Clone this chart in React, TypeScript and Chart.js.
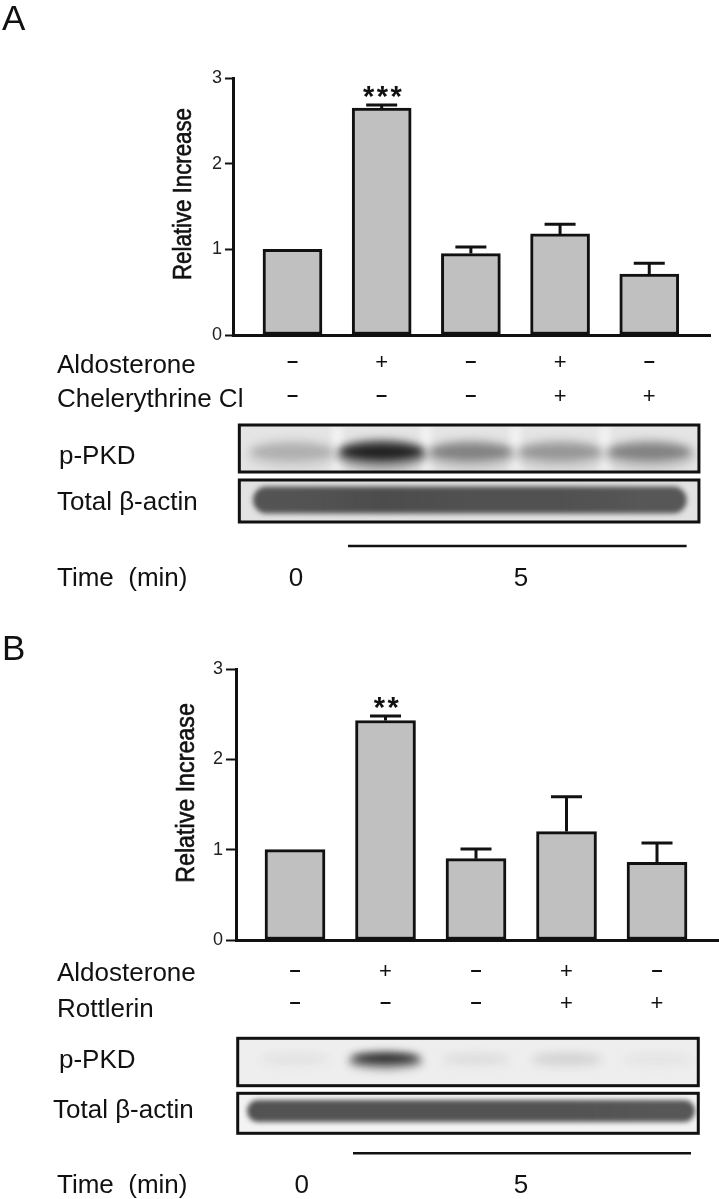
import React, { useEffect, useRef } from 'react';
import { Chart, registerables } from 'chart.js';

Chart.register(...registerables);
Chart.defaults.font.family = '"Liberation Sans", Arial, sans-serif';
Chart.defaults.font.size = 18;

// ---------------- data ----------------
const lanes = [0, 1, 2, 3, 4];
const yTicks = [0, 1, 2, 3];
const timeLabels = ['0', '5'];

// Panel A
const aldosteroneA = ['-', '+', '-', '+', '-'];
const chelerythrineA = ['-', '-', '-', '+', '+'];
const meanA = [1.0, 2.65, 0.95, 1.18, 0.71];
const semA = [0, 0.035, 0.078, 0.112, 0.129];
const sigA = ['', '***', '', '', ''];
const pPKDA = [0.2, 0.95, 0.4, 0.3, 0.4];
const actinA = [0.86, 0.9, 0.88, 0.88, 0.84];

// Panel B
const aldosteroneB = ['-', '+', '-', '+', '-'];
const rottlerinB = ['-', '-', '-', '+', '+'];
const meanB = [1.0, 2.43, 0.9, 1.2, 0.86];
const semB = [0, 0.05, 0.107, 0.385, 0.214];
const sigB = ['', '**', '', '', ''];
const pPKDB = [0.04, 0.97, 0.06, 0.1, 0.03];
const actinB = [0.88, 0.88, 0.88, 0.88, 0.86];

// ---------------- layout ----------------
const FONT = '"Liberation Sans", Arial, sans-serif';
const INK = '#111';

const panelA = {
  letter: 'A', height: 600, letterBaseline: 30,
  axisLeft: 233, axisRight: 710, plotTop: 78, plotBottom: 335,
  xMin: -0.667, xMax: 4.681, barThickness: 59, tickLength: 8,
  means: meanA, sems: semA, sig: sigA,
  titleX: 184, titleY: 194, titleScale: 0.89,
  rows: [
    { label: 'Aldosterone', values: aldosteroneA, baseline: 373, symY: 361 },
    { label: 'Chelerythrine Cl', values: chelerythrineA, baseline: 406.5, symY: 395 },
  ],
  labelX: 57,
  pkd: { top: 425, bottom: 472, left: -0.596, right: 4.557, baseline: 464, labelX: 59, bg: '#e4e4e4', bandY: 452, bandRx: 42, bandRy: 9, values: pPKDA, gaps: true },
  actin: { top: 480, bottom: 522, left: -0.596, right: 4.557, baseline: 510, labelX: 57, bg: '#e2e2e2', bandY: 500, bandH: 27, from: -0.443, to: 4.42, values: actinA },
  timeLine: { y: 546, from: 0.622, to: 4.419 },
  time: { baseline: 585.5, labelX: 57, at: [0.04, 2.562] },
};

const panelB = {
  letter: 'B', height: 599, letterBaseline: 60,
  axisLeft: 236, axisRight: 719, plotTop: 69, plotBottom: 340,
  xMin: -0.652, xMax: 4.685, barThickness: 60, tickLength: 10,
  means: meanB, sems: semB, sig: sigB,
  titleX: 187, titleY: 193, titleScale: 0.93,
  rows: [
    { label: 'Aldosterone', values: aldosteroneB, baseline: 380.7, symY: 370 },
    { label: 'Rottlerin', values: rottlerinB, baseline: 416.7, symY: 402 },
  ],
  labelX: 57,
  pkd: { top: 438.3, bottom: 485.7, left: -0.633, right: 4.456, baseline: 468.3, labelX: 59, bg: '#eeeeee', bandY: 458.5, bandRx: 34, bandRy: 5, values: pPKDB, gaps: false },
  actin: { top: 493.3, bottom: 533.3, left: -0.633, right: 4.456, baseline: 518.3, labelX: 53, bg: '#f3f3f3', bandY: 511, bandH: 22, from: -0.53, to: 4.42, values: actinB },
  timeLine: { y: 553.3, from: 0.641, to: 4.376 },
  time: { baseline: 593.3, labelX: 57, at: [0.074, 2.497] },
};

function drawSymbol(ctx, s, x, cy) {
  ctx.textAlign = 'center';
  ctx.textBaseline = 'alphabetic';
  if (s === '+') {
    ctx.font = `22px ${FONT}`;
    ctx.fillText('+', x, cy + 7.7);
  } else {
    ctx.font = `bold 20px ${FONT}`;
    ctx.fillText('\u2013', x, cy + 5.5);
  }
}

function overlayPlugin(cfg) {
  return {
    id: 'overlay' + cfg.letter,
    afterDatasetsDraw(chart) {
      const { ctx } = chart;
      const xs = chart.scales.x;
      const ys = chart.scales.y;
      ctx.save();
      ctx.strokeStyle = INK;
      ctx.fillStyle = INK;
      ctx.lineWidth = 3;
      lanes.forEach((i) => {
        const e = cfg.sems[i];
        const cx = xs.getPixelForValue(i);
        const yTopBar = ys.getPixelForValue(cfg.means[i]);
        const yErr = ys.getPixelForValue(cfg.means[i] + e);
        if (e > 0) {
          ctx.beginPath();
          ctx.moveTo(cx, yTopBar);
          ctx.lineTo(cx, yErr);
          ctx.moveTo(cx - 15.5, yErr);
          ctx.lineTo(cx + 15.5, yErr);
          ctx.stroke();
        }
        if (cfg.sig[i]) {
          ctx.font = `bold 29px ${FONT}`;
          ctx.textAlign = 'center';
          ctx.textBaseline = 'alphabetic';
          (ctx as any).letterSpacing = '2.5px';
          ctx.fillText(cfg.sig[i], cx + 2, yErr + 1.5);
          (ctx as any).letterSpacing = '0px';
        }
      });
      ctx.restore();
    },
    afterDraw(chart) {
      const { ctx } = chart;
      const xs = chart.scales.x;
      const px = (v) => xs.getPixelForValue(v);
      ctx.save();
      ctx.fillStyle = INK;
      ctx.strokeStyle = INK;

      // panel letter
      ctx.font = `35px ${FONT}`;
      ctx.textAlign = 'left';
      ctx.textBaseline = 'alphabetic';
      ctx.fillText(cfg.letter, 2, cfg.letterBaseline);

      // y axis title (condensed)
      ctx.save();
      ctx.translate(cfg.titleX, cfg.titleY);
      ctx.rotate(-Math.PI / 2);
      ctx.scale(cfg.titleScale, 1);
      ctx.font = `25px ${FONT}`;
      ctx.textAlign = 'center';
      ctx.textBaseline = 'middle';
      ctx.lineWidth = 0.6;
      ctx.fillText('Relative Increase', 0, 0);
      ctx.strokeText('Relative Increase', 0, 0);
      ctx.restore();

      // treatment rows
      cfg.rows.forEach((r) => {
        ctx.font = `26px ${FONT}`;
        ctx.textAlign = 'left';
        ctx.textBaseline = 'alphabetic';
        ctx.fillText(r.label, cfg.labelX, r.baseline);
        lanes.forEach((i) => drawSymbol(ctx, r.values[i], px(i), r.symY));
      });

      // p-PKD blot
      const pk = cfg.pkd;
      ctx.font = `26px ${FONT}`;
      ctx.textAlign = 'left';
      ctx.fillText('p-PKD', pk.labelX, pk.baseline);
      {
        const x1 = px(pk.left), x2 = px(pk.right);
        ctx.save();
        ctx.beginPath();
        ctx.rect(x1, pk.top, x2 - x1, pk.bottom - pk.top);
        ctx.clip();
        ctx.fillStyle = pk.bg;
        ctx.fillRect(x1, pk.top, x2 - x1, pk.bottom - pk.top);
        (ctx as any).filter = 'blur(4px)';
        if (pk.gaps) {
          ctx.fillStyle = 'rgba(255,255,255,0.75)';
          lanes.slice(0, 4).forEach((i) => {
            ctx.fillRect(px(i + 0.5) - 4, pk.top, 8, pk.bottom - pk.top);
          });
        }
        lanes.forEach((i) => {
          const a = pk.values[i];
          ctx.fillStyle = `rgba(20,20,20,${a})`;
          ctx.beginPath();
          ctx.ellipse(px(i), pk.bandY, pk.bandRx, pk.bandRy, 0, 0, Math.PI * 2);
          ctx.fill();
          ctx.fillStyle = `rgba(40,40,40,${a * 0.35})`;
          ctx.beginPath();
          ctx.ellipse(px(i), pk.bandY + 3, pk.bandRx + 4, pk.bandRy * 1.8, 0, 0, Math.PI * 2);
          ctx.fill();
        });
        ctx.restore();
        ctx.lineWidth = 3;
        ctx.strokeRect(x1, pk.top, x2 - x1, pk.bottom - pk.top);
      }

      // actin blot
      const ac = cfg.actin;
      ctx.fillStyle = INK;
      ctx.font = `26px ${FONT}`;
      ctx.textAlign = 'left';
      ctx.fillText('Total \u03b2-actin', ac.labelX, ac.baseline);
      {
        const x1 = px(ac.left), x2 = px(ac.right);
        ctx.save();
        ctx.beginPath();
        ctx.rect(x1, ac.top, x2 - x1, ac.bottom - ac.top);
        ctx.clip();
        ctx.fillStyle = ac.bg;
        ctx.fillRect(x1, ac.top, x2 - x1, ac.bottom - ac.top);
        const b1 = px(ac.from), b2 = px(ac.to);
        const grad = ctx.createLinearGradient(b1, 0, b2, 0);
        lanes.forEach((i) => {
          const t = Math.min(1, Math.max(0, (px(i) - b1) / (b2 - b1)));
          grad.addColorStop(t, `rgba(60,60,60,${ac.values[i]})`);
        });
        (ctx as any).filter = 'blur(2.5px)';
        ctx.fillStyle = grad;
        ctx.beginPath();
        (ctx as any).roundRect(b1, ac.bandY - ac.bandH / 2, b2 - b1, ac.bandH, ac.bandH / 2);
        ctx.fill();
        ctx.restore();
        ctx.lineWidth = 3;
        ctx.strokeRect(x1, ac.top, x2 - x1, ac.bottom - ac.top);
      }

      // time line + labels
      ctx.lineWidth = 2.5;
      ctx.beginPath();
      ctx.moveTo(px(cfg.timeLine.from), cfg.timeLine.y);
      ctx.lineTo(px(cfg.timeLine.to), cfg.timeLine.y);
      ctx.stroke();
      ctx.font = `26px ${FONT}`;
      ctx.textAlign = 'left';
      ctx.fillText('Time  (min)', cfg.time.labelX, cfg.time.baseline);
      ctx.textAlign = 'center';
      timeLabels.forEach((t, k) => ctx.fillText(t, px(cfg.time.at[k]), cfg.time.baseline));

      ctx.restore();
    },
  };
}

function Panel({ cfg }) {
  const ref = useRef<HTMLCanvasElement>(null);
  useEffect(() => {
    const chart = new Chart(ref.current as HTMLCanvasElement, {
      type: 'bar',
      data: {
        datasets: [
          {
            data: lanes.map((i) => ({ x: i, y: cfg.means[i] })),
            backgroundColor: '#c0c0c0',
            borderColor: INK,
            borderWidth: 3,
            borderSkipped: false,
            barThickness: cfg.barThickness,
          },
        ],
      },
      options: {
        animation: false,
        responsive: false,
        maintainAspectRatio: false,
        devicePixelRatio: 1,
        layout: { padding: { left: 0, top: cfg.plotTop, right: 719 - cfg.axisRight, bottom: 0 } },
        plugins: { legend: { display: false }, tooltip: { enabled: false } },
        scales: {
          x: {
            type: 'linear',
            offset: false,
            min: cfg.xMin,
            max: cfg.xMax,
            grid: { display: false, offset: false },
            ticks: { display: false },
            border: { display: true, color: INK, width: 3 },
            afterFit: (s) => { s.height = cfg.height - cfg.plotBottom; },
          },
          y: {
            min: 0,
            max: 3,
            afterBuildTicks: (s) => { s.ticks = yTicks.map((v) => ({ value: v })); },
            ticks: { padding: 3, color: '#222', font: { family: FONT, size: 18 } },
            grid: { display: true, drawOnChartArea: false, drawTicks: true, tickLength: cfg.tickLength, tickWidth: 2, tickColor: INK },
            border: { display: true, color: INK, width: 3 },
            afterFit: (s) => { s.width = cfg.axisLeft; },
          },
        },
      },
      plugins: [overlayPlugin(cfg)],
    });
    return () => chart.destroy();
  }, []);
  return <canvas ref={ref} width={719} height={cfg.height} style={{ display: 'block' }} />;
}

export default function App() {
  return (
    <div style={{ position: 'absolute', left: 0, top: 0, width: 719, height: 1199, background: '#fff', overflow: 'hidden' }}>
      <Panel cfg={panelA} />
      <Panel cfg={panelB} />
    </div>
  );
}
